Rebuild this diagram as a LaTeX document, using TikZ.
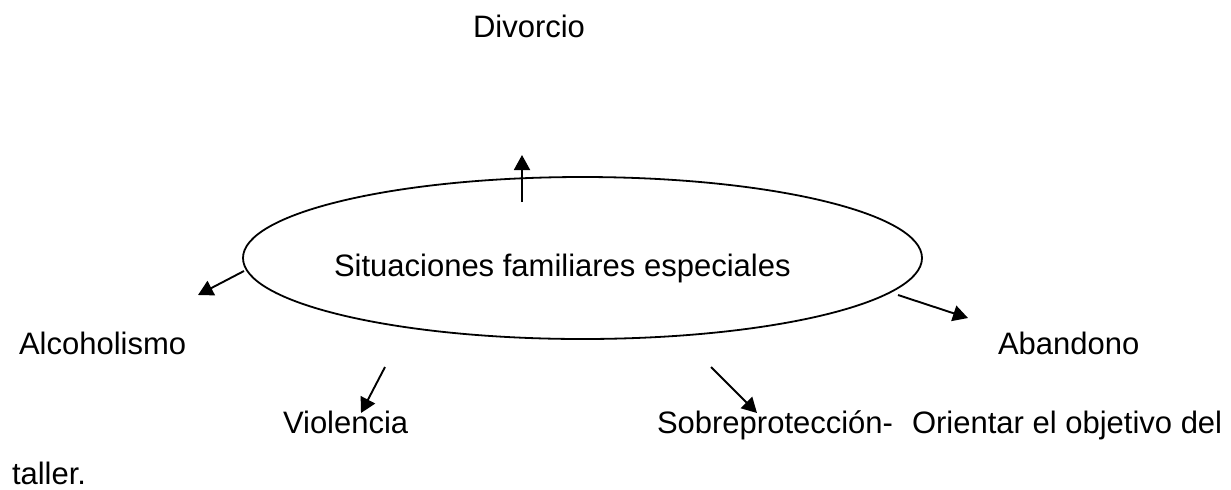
\documentclass[tikz,border=0pt]{standalone}
\usepackage{fontspec}
\setmainfont{Liberation Sans}
\usetikzlibrary{shapes.geometric,arrows.meta}
\begin{document}
\begin{tikzpicture}[x=0.5pt,y=-0.5pt,
  lbl/.style={anchor=base west,inner sep=0pt,outer sep=0pt,font=\fontsize{15.5}{18}\selectfont},
  conn/.style={line width=0.95pt,-{Triangle[length=7.5pt,width=8pt]}},
  oval/.style={draw,ellipse,line width=0.9pt,inner sep=0pt,minimum width=339.5pt,minimum height=81pt}]
\useasboundingbox[fill=white] (0,0) rectangle (1231,489);
% central ellipse and its text
\node[oval] (sit) at (582.5,258) {};
\node[lbl] (sittext) at (334,276) {Situaciones familiares especiales};
% labels
\node[lbl] (div) at (473,37) {Divorcio};
\node[lbl] (alc) at (19,354) {Alcoholismo};
\node[lbl] (aban) at (998,354) {Abandono};
\node[lbl] (viol) at (283,433) {Violencia};
\node[lbl] (sobre) at (657,433) {Sobreprotección-};
\node[lbl] (ori) at (912,433) {Orientar el objetivo del};
\node[lbl] (tall) at (12,484) {taller.};
% arrow end points
\coordinate (upS) at (522,202);
\coordinate (upE) at (522,155);
\coordinate (lfS) at (244,271);
\coordinate (lfE) at (198,295);
\coordinate (viS) at (385,367);
\coordinate (viE) at (361,413);
\coordinate (soS) at (711,367);
\coordinate (soE) at (757,413);
\coordinate (abS) at (898,295);
\coordinate (abE) at (968,318);
% connectors
\draw[conn] (upS) -- (upE);
\draw[conn] (lfS) -- (lfE);
\draw[conn] (viS) -- (viE);
\draw[conn] (soS) -- (soE);
\draw[conn] (abS) -- (abE);
\end{tikzpicture}
\end{document}
